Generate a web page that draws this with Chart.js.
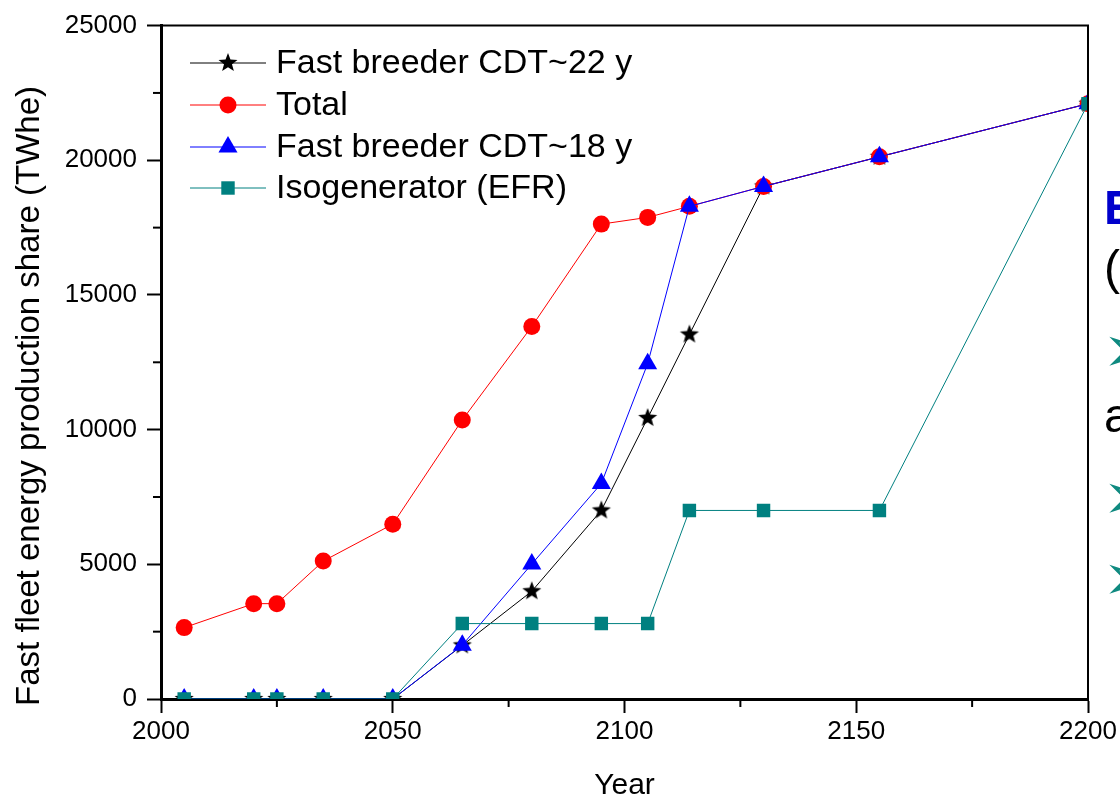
<!DOCTYPE html>
<html>
<head>
<meta charset="utf-8">
<script src="https://cdn.jsdelivr.net/npm/chart.js@4.4.1/dist/chart.umd.min.js"></script>
<style>
  html, body { margin: 0; padding: 0; background: #fff; }
  #wrap { position: relative; width: 1120px; height: 798px; overflow: hidden; }
  #chart { position: absolute; left: 0; top: 0; }
  .side { position: absolute; left: 1104px; font-family: "Liberation Sans", Arial, sans-serif; font-size: 48px; white-space: nowrap; line-height: 1; }
  .arrow { color: #0f8a80; font-family: "DejaVu Sans", sans-serif; font-size: 66px; left: 1102px; }
</style>
</head>
<body>
<div id="wrap">
  <canvas id="chart" width="1120" height="798"></canvas>
  <div class="side" style="top:184px;color:#0000cc;font-weight:bold;">E</div>
  <div class="side" style="top:244px;">(</div>
  <div class="side arrow" style="top:317px;">➢</div>
  <div class="side" style="top:392px;">a</div>
  <div class="side arrow" style="top:464px;">➢</div>
  <div class="side arrow" style="top:545px;">➢</div>
</div>
<script>
// Dados //

const anos = [2005, 2020, 2025, 2035, 2050, 2065, 2080, 2095, 2105, 2114, 2130, 2155, 2200];
const cdt22 = [0, 0, 0, 0, 0, 1990, 4000, 7000, 10430, 13530, 19030, 20130, 22100];
const total = [2650, 3540, 3540, 5120, 6490, 10360, 13830, 17630, 17880, 18290, 19030, 20130, 22100];
const cdt18 = [0, 0, 0, 0, 0, 2000, 5010, 8000, 12450, 18290, 19030, 20130, 22100];
const efr = [0, 0, 0, 0, 0, 2800, 2800, 2800, 2800, 7000, 7000, 7000, 22100];

const nomes = ["Fast breeder CDT~22 y", "Total", "Fast breeder CDT~18 y", "Isogenerator (EFR)"];
const xTicks = [2000, 2050, 2100, 2150, 2200];
const yTicks = [0, 5000, 10000, 15000, 20000, 25000];
const tituloY = "Fast fleet energy production share (TWhe)";

// Estrela preenchida (o 'star' do Chart.js é só traços)
function criaEstrela(r) {
    const c = document.createElement("canvas");
    c.width = c.height = r * 2 + 2;
    const g = c.getContext("2d");
    g.fillStyle = "#000";
    g.beginPath();
    for (let i = 0; i < 10; i++) {
        const rad = i % 2 === 0 ? r : r * 0.42;
        const a = -Math.PI / 2 + i * Math.PI / 5;
        const px = c.width / 2 + rad * Math.cos(a);
        const py = c.height / 2 + rad * Math.sin(a);
        if (i === 0) g.moveTo(px, py); else g.lineTo(px, py);
    }
    g.closePath();
    g.fill();
    return c;
}
const estrela = criaEstrela(10);

function pontos(vals) {
    return anos.map((a, i) => ({ x: a, y: vals[i] }));
}

const fonte = '"Liberation Sans", Arial, sans-serif';

// Moldura + ticks menores + legenda + título do eixo y
const extras = {
    id: "extras",
    afterDraw(chart) {
        const ctx = chart.ctx;
        const a = chart.chartArea;
        const sx = chart.scales.x;
        const sy = chart.scales.y;
        ctx.save();
        ctx.strokeStyle = "#000";
        ctx.lineWidth = 2;
        ctx.beginPath();
        ctx.moveTo(a.left, a.top);
        ctx.lineTo(a.right, a.top);
        ctx.lineTo(a.right, a.bottom);
        ctx.stroke();

        // ticks menores
        for (let v = 2025; v < 2200; v += 50) {
            const px = sx.getPixelForValue(v);
            ctx.beginPath();
            ctx.moveTo(px, a.bottom);
            ctx.lineTo(px, a.bottom + 8);
            ctx.stroke();
        }
        for (let v = 2500; v < 25000; v += 5000) {
            const py = sy.getPixelForValue(v);
            ctx.beginPath();
            ctx.moveTo(a.left, py);
            ctx.lineTo(a.left - 8, py);
            ctx.stroke();
        }

        // título do eixo y (um pouco abaixo do centro, como no original)
        ctx.save();
        ctx.translate(30, 396);
        ctx.rotate(-Math.PI / 2);
        ctx.fillStyle = "#000";
        ctx.font = "33px " + fonte;
        ctx.textAlign = "center";
        ctx.textBaseline = "middle";
        ctx.fillText(tituloY, 0, 0);
        ctx.restore();

        // legenda
        const linhas = [63, 105, 147, 188];
        chart.data.datasets.forEach((ds, i) => {
            const y = linhas[i];
            ctx.strokeStyle = ds.borderColor;
            ctx.lineWidth = 1;
            ctx.beginPath();
            ctx.moveTo(190, y);
            ctx.lineTo(266, y);
            ctx.stroke();
            ctx.fillStyle = ds.backgroundColor;
            ctx.strokeStyle = ds.backgroundColor;
            Chart.helpers.drawPoint(ctx, {
                pointStyle: ds.pointStyle,
                radius: ds.pointRadius,
                borderWidth: 0,
                rotation: 0
            }, 228, y);
            ctx.fillStyle = "#000";
            ctx.font = "34px " + fonte;
            ctx.textBaseline = "middle";
            ctx.fillText(nomes[i], 276, y + 1);
        });
        ctx.restore();
    }
};

const ctx = document.getElementById("chart");

new Chart(ctx, {
    type: "line",
    data: {
        datasets: [
            { label: nomes[0], data: pontos(cdt22), borderColor: "#000", backgroundColor: "#000", borderWidth: 1, pointStyle: estrela, pointRadius: 10, order: 3 },
            { label: nomes[1], data: pontos(total), borderColor: "#ff0000", backgroundColor: "#ff0000", borderWidth: 1, pointStyle: "circle", pointRadius: 8.5, pointBorderWidth: 0, order: 2 },
            { label: nomes[2], data: pontos(cdt18), borderColor: "#0000ff", backgroundColor: "#0000ff", borderWidth: 1, pointStyle: "triangle", pointRadius: 11, pointBorderWidth: 0, order: 1 },
            { label: nomes[3], data: pontos(efr), borderColor: "#008080", backgroundColor: "#008080", borderWidth: 1, pointStyle: "rect", pointRadius: 9.5, pointBorderWidth: 0, order: 0 }
        ]
    },
    options: {
        responsive: false,
        animation: false,
        events: [],
        layout: { padding: { top: 21, right: 32, left: 0, bottom: 0 } },
        plugins: {
            legend: { display: false },
            tooltip: { enabled: false }
        },
        scales: {
            x: {
                type: "linear",
                min: 2000,
                max: 2200,
                afterBuildTicks: (s) => { s.ticks = xTicks.map(v => ({ value: v })); },
                ticks: { color: "#000", font: { family: fonte, size: 26 }, padding: 3, maxRotation: 0, callback: (v) => String(v) },
                grid: { drawOnChartArea: false, drawTicks: true, tickLength: 14, tickWidth: 2, tickColor: "#000" },
                border: { display: true, color: "#000", width: 3 },
                title: { display: true, text: "Year", color: "#000", font: { family: fonte, size: 30 }, padding: { top: 0, bottom: -6 } },
                afterFit: (s) => { s.height = 99; }
            },
            y: {
                min: 0,
                max: 25000,
                afterBuildTicks: (s) => { s.ticks = yTicks.map(v => ({ value: v })); },
                ticks: { color: "#000", font: { family: fonte, size: 26 }, padding: 10, callback: (v) => String(v) },
                grid: { drawOnChartArea: false, drawTicks: true, tickLength: 14, tickWidth: 2, tickColor: "#000" },
                border: { display: true, color: "#000", width: 3 },
                afterFit: (s) => { s.width = 161; }
            }
        }
    },
    plugins: [extras]
});
</script>
</body>
</html>
